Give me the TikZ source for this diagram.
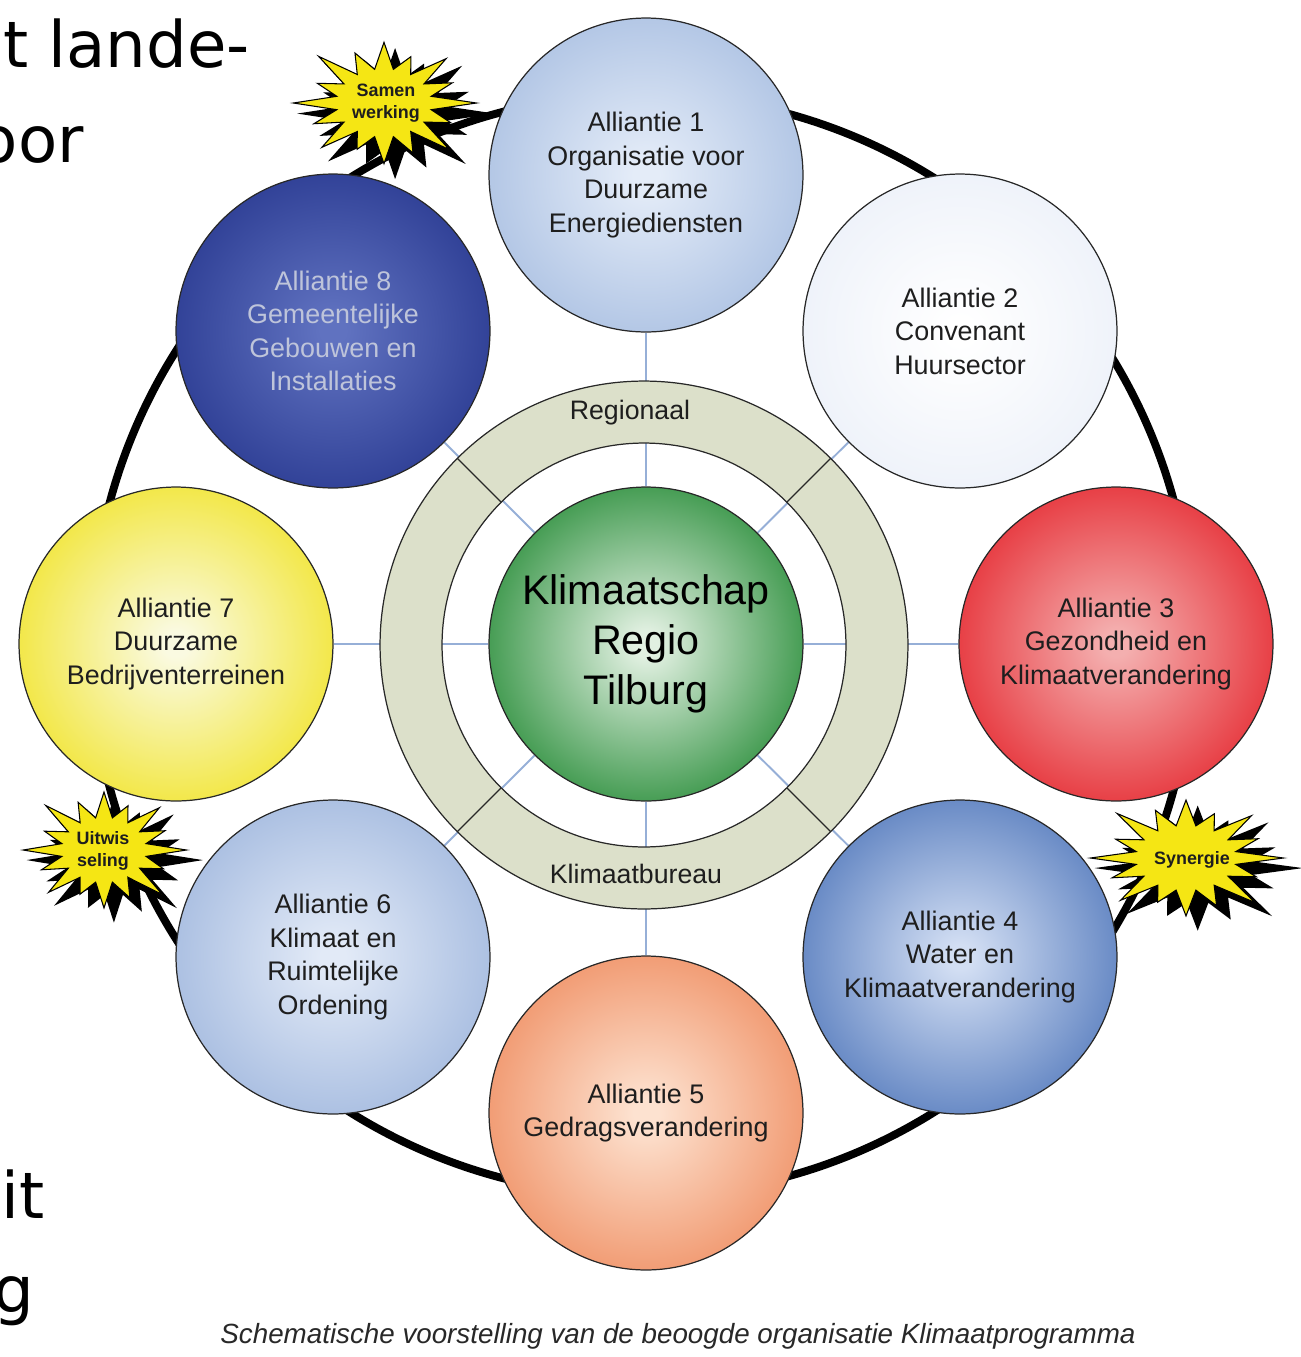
\documentclass[tikz,border=0pt]{standalone}
\usepackage{fontspec}
\setmainfont{Liberation Sans}
\newfontfamily\verd{DejaVu Sans}
\usetikzlibrary{calc}
\pgfdeclarelayer{bg}
\pgfsetlayers{bg,main}
\colorlet{inc}{white}
\colorlet{outc}{black}
\pgfdeclareradialshading[inc,outc]{ballx}{\pgfpoint{0bp}{0bp}}{color(0bp)=(inc); color(2bp)=(inc); color(32bp)=(outc); color(50bp)=(outc)}
\definecolor{cborder}{RGB}{40,40,40}
\definecolor{connc}{RGB}{150,175,215}
\definecolor{ringfill}{RGB}{220,224,202}
\definecolor{staryellow}{RGB}{245,230,20}
\definecolor{txt}{RGB}{30,30,30}
\definecolor{aonein}{RGB}{228,236,248}\definecolor{aoneout}{RGB}{165,188,224}
\definecolor{atwoin}{RGB}{255,255,255}\definecolor{atwoout}{RGB}{234,239,248}
\definecolor{athreein}{RGB}{244,175,175}\definecolor{athreeout}{RGB}{228,30,38}
\definecolor{afourin}{RGB}{210,222,243}\definecolor{afourout}{RGB}{74,114,184}
\definecolor{afivein}{RGB}{253,226,208}\definecolor{afiveout}{RGB}{238,136,90}
\definecolor{asixin}{RGB}{226,234,247}\definecolor{asixout}{RGB}{156,180,220}
\definecolor{asevenin}{RGB}{250,250,225}\definecolor{asevenout}{RGB}{240,226,28}
\definecolor{aeightin}{RGB}{96,114,192}\definecolor{aeightout}{RGB}{36,52,140}
\definecolor{aeighttxt}{RGB}{190,196,218}
\definecolor{cenin}{RGB}{225,240,225}\definecolor{cenout}{RGB}{24,132,42}
\def\burstpts{11.25/.52, 22.5/.8, 33.75/.52, 45/.95, 56.25/.52, 67.5/.76, 78.75/.52, 90/.92, 101.25/.52, 112.5/.82, 123.75/.52, 135/1, 146.25/.52, 157.5/.78, 168.75/.52, 180/.98, 191.25/.52, 202.5/.82, 213.75/.52, 225/.95, 236.25/.52, 247.5/.76, 258.75/.52, 270/.92, 281.25/.52, 292.5/.82, 303.75/.52, 315/1, 326.25/.52, 337.5/.78, 348.75/.52}
\newcommand\drawburst[4]{%
  \begin{scope}[shift={(#1,#2)},x=#3cm,y=#4cm]
    \fill[black,shift={(0.12,-0.16)},scale=1.08] (0:1) \foreach \a/\r in \burstpts {-- (\a:\r)} -- cycle;
    \filldraw[fill=staryellow,draw=black,line width=0.6pt] (0:1) \foreach \a/\r in \burstpts {-- (\a:\r)} -- cycle;
  \end{scope}}
\tikzset{
  alli/.style n args={3}{circle, minimum size=6.28cm, inner sep=0pt, draw=cborder, line width=0.7pt,
     /utils/exec={\colorlet{inc}{#1}\colorlet{outc}{#2}}, shading=ballx, text=#3, align=center,
     font=\fontsize{15.3}{19}\selectfont},
  conn/.style={draw=connc, line width=1.1pt},
  bigring/.style={draw=black, line width=4.5pt},
  ringtext/.style={text=txt, font=\fontsize{15.2}{18}\selectfont},
  startext/.style={text=txt, align=center, font=\bfseries\fontsize{10.2}{12.8}\selectfont},
  frag/.style={anchor=base east, inner sep=0pt, text=black, font=\verd\fontsize{36.5}{40}\selectfont},
  captext/.style={text=cborder, font=\itshape\fontsize{15.8}{18}\selectfont}
}
\begin{document}
\begin{tikzpicture}[x=0.02cm,y=-0.02cm]
\useasboundingbox (0,0) rectangle (1301,1357);
\clip (0,0) rectangle (1301,1357);
% gray ring
\coordinate (rc) at (644,645);
\fill[ringfill, even odd rule] (rc) circle[radius=5.28cm] (rc) circle[radius=4.04cm];
\draw[cborder, line width=0.7pt] (rc) circle[radius=5.28cm] (rc) circle[radius=4.04cm];
\foreach \ang in {45,135,225,315}
  \draw[cborder, line width=0.7pt] ($(rc)+(\ang:4.04cm)$) -- ($(rc)+(\ang:5.28cm)$);
\node[ringtext] (reg) at (630,413) {Regionaal};
\node[ringtext] (kb) at (636,874) {Klimaatbureau};
% center
\node[circle, minimum size=6.28cm, inner sep=0pt, draw=cborder, line width=0.7pt,
      /utils/exec={\colorlet{inc}{cenin}\colorlet{outc}{cenout}}, shading=ballx,
      text=black, align=center, font=\fontsize{23.5}{28.4}\selectfont] (c) at (646,644)
      {Klimaatschap\\Regio\\Tilburg};
% alliances
\node[alli={aonein}{aoneout}{txt}] (a1) at (646,175) {Alliantie 1\\Organisatie voor\\Duurzame\\Energiediensten};
\node[alli={atwoin}{atwoout}{txt}] (a2) at (960,331) {Alliantie 2\\Convenant\\Huursector};
\node[alli={athreein}{athreeout}{txt}] (a3) at (1116,644) {Alliantie 3\\Gezondheid en\\Klimaatverandering};
\node[alli={afourin}{afourout}{txt}] (a4) at (960,957) {Alliantie 4\\Water en\\Klimaatverandering};
\node[alli={afivein}{afiveout}{txt}] (a5) at (646,1113) {Alliantie 5\\Gedragsverandering};
\node[alli={asixin}{asixout}{txt}] (a6) at (333,957) {Alliantie 6\\Klimaat en\\Ruimtelijke\\Ordening};
\node[alli={asevenin}{asevenout}{txt}] (a7) at (176,644) {Alliantie 7\\Duurzame\\Bedrijventerreinen};
\node[alli={aeightin}{aeightout}{aeighttxt}] (a8) at (333,331) {Alliantie 8\\Gemeentelijke\\Gebouwen en\\Installaties};
% background: big ring and connectors
\begin{pgfonlayer}{bg}
  \draw[bigring] (642,645) circle[radius=11.02cm];
  \foreach \n in {a1,a2,a3,a4,a5,a6,a7,a8}
    \draw[conn] (c) -- (\n);
\end{pgfonlayer}
% starbursts
\drawburst{384}{103}{1.85}{1.32}
\node[startext] (s1) at (386,103) {Samen\\werking};
\drawburst{104}{850}{1.65}{1.26}
\node[startext] (s2) at (103,851) {Uitwis\\seling};
\drawburst{1186}{858}{1.95}{1.26}
\node[startext] (s3) at (1192,860) {Synergie};
% text fragments at the left edge
\node[frag] (f1) at (250,67) {t lande-};
\node[frag] (f2) at (84,162) {oor};
\node[frag] (f3) at (45,1218) {it};
\node[frag] (f4) at (35,1312) {g};
% caption
\node[captext] (cap) at (678,1336) {Schematische voorstelling van de beoogde organisatie Klimaatprogramma};
\end{tikzpicture}
\end{document}
